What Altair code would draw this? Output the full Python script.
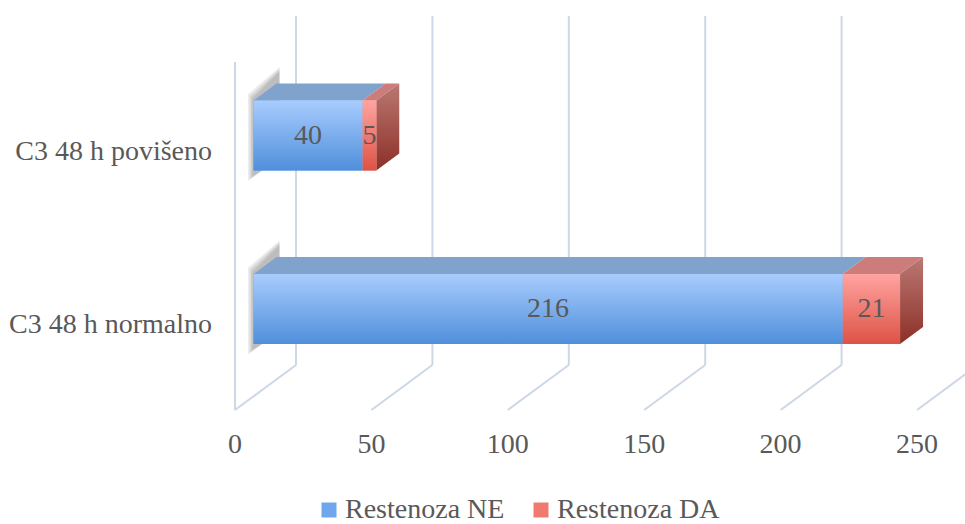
import altair as alt
import pandas as pd

# ---- data -------------------------------------------------------------
categories = ["C3 48 h normalno", "C3 48 h povišeno"]
series = ["Restenoza NE", "Restenoza DA"]
restenoza_ne = [216, 40]
restenoza_da = [21, 5]
ticks = [0, 50, 100, 150, 200, 250]

# ---- 3-D projection helpers (front plane: value -> x, slot -> y) -------
W, H = 965, 524
PX_PER_UNIT = 2.728
ORIGIN_X = 235
SLOT_PX = 173.5
ORIGIN_Y = 309


def ux(px):
    return px / PX_PER_UNIT


def uy(px):
    return px / SLOT_PX


x_scale = alt.Scale(domain=[-ORIGIN_X / PX_PER_UNIT, (W - ORIGIN_X) / PX_PER_UNIT], nice=False, zero=False)
y_scale = alt.Scale(domain=[(ORIGIN_Y - H) / SLOT_PX, ORIGIN_Y / SLOT_PX], nice=False, zero=False)

WALL_DX, WALL_DY = ux(61), uy(45)
FLOOR_FRONT = uy(309 - 410)
FLOOR_BACK = FLOOR_FRONT + WALL_DY
WALL_TOP_BACK = uy(309 - 16)
WALL_TOP_LEFT = uy(309 - 62)
BAR_INSET = ux(18.5)
BAR_DX, BAR_DY = ux(23), uy(17)
BAR_HALF = uy(35)

FONT = "Liberation Serif, Times New Roman, DejaVu Serif, serif"
FONT_SIZE = 28
TEXT_COLOR = "#595959"
GRID_COLOR = "#cdd7e5"

front_fill = {
    "Restenoza NE": ("#a9ccfe", "#4f8fdb"),
    "Restenoza DA": ("#ffa4a1", "#de5244"),
}
top_fill = {"Restenoza NE": "#80a3cd", "Restenoza DA": "#cc7d7b"}
side_fill = {
    "Restenoza NE": ("#6f8fb8", "#3f6a9c"),
    "Restenoza DA": ("#bb7873", "#8c3026"),
}


def vgrad(c0, c1):
    return alt.Gradient(
        gradient="linear", x1=0, y1=0, x2=0, y2=1,
        stops=[alt.GradientStop(color=c0, offset=0), alt.GradientStop(color=c1, offset=1)],
    )


# ---- tables -----------------------------------------------------------
grid = pd.DataFrame({"v": ticks})
grid["vb"] = grid["v"] + WALL_DX
grid["yf"] = FLOOR_FRONT
grid["yb"] = FLOOR_BACK
grid["yt"] = WALL_TOP_BACK
grid["label"] = grid["v"].astype(str)
grid["ylab"] = uy(309 - 445)

segs = []
for i, cat in enumerate(categories):
    start = 0
    vals = [restenoza_ne[i], restenoza_da[i]]
    for j, s in enumerate(series):
        end = start + vals[j]
        segs.append(dict(cat=cat, slot=i, series=s, value=vals[j], start=start, end=end,
                         last=(j == len(series) - 1)))
        start = end
segs = pd.DataFrame(segs)
segs["x0"] = segs["start"] + BAR_INSET
segs["x1"] = segs["end"] + BAR_INSET
segs["xm"] = (segs["x0"] + segs["x1"]) / 2
segs["ylo"] = segs["slot"] - BAR_HALF
segs["yhi"] = segs["slot"] + BAR_HALF
segs["top_col"] = segs["series"].map(top_fill)

# top faces: horizontal areas (two rows per face)
top_rows = []
for k, r in segs.iterrows():
    top_rows.append(dict(face=k, series=r.series, col=r.top_col, y=r.yhi, xa=r.x0, xb=r.x1))
    top_rows.append(dict(face=k, series=r.series, col=r.top_col, y=r.yhi + BAR_DY,
                         xa=r.x0 + BAR_DX, xb=r.x1 + BAR_DX))
top_df = pd.DataFrame(top_rows)

# right side faces of the last segment
side_rows = []
for k, r in segs[segs["last"]].iterrows():
    side_rows.append(dict(face=k, series=r.series, x=r.x1, ya=r.ylo, yb=r.yhi))
    side_rows.append(dict(face=k, series=r.series, x=r.x1 + BAR_DX, ya=r.ylo + BAR_DY, yb=r.yhi + BAR_DY))
side_df = pd.DataFrame(side_rows)

# soft shadow cast to the left of each bar (several faint passes)
shadow_rows = []
for i, cat in enumerate(categories):
    for p, e in enumerate([0, 1.5, 3, 4.5]):
        fid = f"{i}-{p}"
        shadow_rows.append(dict(face=fid, x=BAR_INSET - ux(1 + e),
                                ya=i - BAR_HALF - uy(6 + e), yb=i + BAR_HALF + uy(2 + e)))
        shadow_rows.append(dict(face=fid, x=BAR_INSET + ux(26),
                                ya=i - BAR_HALF + uy(12), yb=i + BAR_HALF + uy(29 + e)))
shadow_df = pd.DataFrame(shadow_rows)

cat_df = pd.DataFrame({"cat": categories, "slot": range(len(categories))})
cat_df["xl"] = ux(212 - 235)
cat_df["yl"] = cat_df["slot"] - uy(16)

X = lambda f: alt.X(f, type="quantitative", scale=x_scale, axis=None)
Y = lambda f: alt.Y(f, type="quantitative", scale=y_scale, axis=None)

# ---- layers -----------------------------------------------------------
back_lines = alt.Chart(grid).mark_rule(color=GRID_COLOR, strokeWidth=2).encode(
    x=X("vb"), y=Y("yb"), y2="yt")
floor_lines = alt.Chart(grid).mark_rule(color=GRID_COLOR, strokeWidth=2).encode(
    x=X("v"), y=Y("yf"), x2="vb", y2="yb")
left_wall = alt.Chart(grid[grid["v"] == 0].assign(ytop=WALL_TOP_LEFT)).mark_rule(
    color=GRID_COLOR, strokeWidth=2).encode(x=X("v"), y=Y("yf"), y2="ytop")
tick_labels = alt.Chart(grid).mark_text(font=FONT, fontSize=FONT_SIZE, color=TEXT_COLOR,
                                        baseline="middle").encode(x=X("v"), y=Y("ylab"), text="label:N")
cat_labels = alt.Chart(cat_df).mark_text(font=FONT, fontSize=FONT_SIZE, color=TEXT_COLOR, align="right",
                                         baseline="middle").encode(x=X("xl"), y=Y("yl"), text="cat:N")

shadow = alt.Chart(shadow_df).mark_area(orient="vertical", color="#000000", opacity=0.07).encode(
    x=X("x"), y=Y("ya"), y2="yb", detail="face:N")

tops = alt.Chart(top_df).mark_area(orient="horizontal").encode(
    y=Y("y"), x=X("xa"), x2="xb", detail="face:N",
    color=alt.Color("col:N", scale=None))

sides = []
for s in series:
    d = side_df[side_df["series"] == s]
    if len(d):
        sides.append(alt.Chart(d).mark_area(orient="vertical", fill=vgrad(*side_fill[s])).encode(
            x=X("x"), y=Y("ya"), y2="yb", detail="face:N"))

fronts_legend = alt.Chart(segs).mark_rect().encode(
    x=X("x0"), x2="x1", y=Y("ylo"), y2="yhi",
    color=alt.Color("series:N", scale=alt.Scale(domain=series, range=["#6fa6ec", "#ef7a70"]),
                    legend=alt.Legend(orient="none", legendX=315, legendY=496, direction="horizontal",
                                      title=None, symbolType="square", symbolSize=225,
                                      symbolStrokeWidth=0, labelFont=FONT, labelFontSize=FONT_SIZE,
                                      labelColor=TEXT_COLOR, labelOffset=2, labelLimit=400,
                                      columnPadding=22, padding=0)))
fronts = []
for s in series:
    fronts.append(alt.Chart(segs[segs["series"] == s]).mark_rect(fill=vgrad(*front_fill[s])).encode(
        x=X("x0"), x2="x1", y=Y("ylo"), y2="yhi"))

value_labels = alt.Chart(segs).mark_text(font=FONT, fontSize=FONT_SIZE, color=TEXT_COLOR,
                                         baseline="middle").encode(x=X("xm"), y=Y("slot"), text="value:Q")

chart = alt.layer(
    back_lines, floor_lines, left_wall, tick_labels, cat_labels, shadow, tops, *sides,
    fronts_legend, *fronts, value_labels,
).properties(width=W, height=H, padding=0, autosize="none", background="white").configure_view(stroke=None)

chart.save("out.html", embed_options={"renderer": "svg", "actions": False})
